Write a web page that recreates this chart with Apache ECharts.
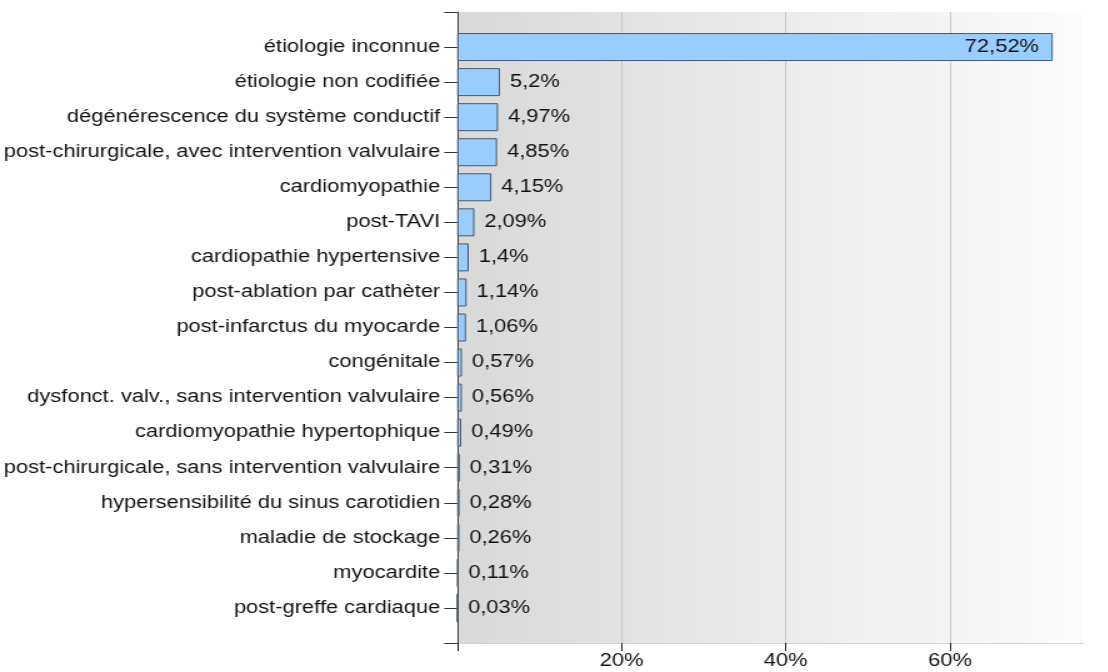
<!DOCTYPE html>
<html>
<head>
<meta charset="utf-8">
<script src="https://cdn.jsdelivr.net/npm/echarts@6/dist/echarts.min.js"></script>
<style>
html,body{margin:0;padding:0;background:#fff;overflow:hidden;}
#chart{width:886.4px;height:672px;transform:scaleX(1.25);transform-origin:0 0;}
</style>
</head>
<body>
<div id="chart"></div>
<script>
const categories = [
  "étiologie inconnue",
  "étiologie non codifiée",
  "dégénérescence du système conductif",
  "post-chirurgicale, avec intervention valvulaire",
  "cardiomyopathie",
  "post-TAVI",
  "cardiopathie hypertensive",
  "post-ablation par cathèter",
  "post-infarctus du myocarde",
  "congénitale",
  "dysfonct. valv., sans intervention valvulaire",
  "cardiomyopathie hypertophique",
  "post-chirurgicale, sans intervention valvulaire",
  "hypersensibilité du sinus carotidien",
  "maladie de stockage",
  "myocardite",
  "post-greffe cardiaque"
];
const values = [72.52, 5.2, 4.97, 4.85, 4.15, 2.09, 1.4, 1.14, 1.06, 0.57, 0.56, 0.49, 0.31, 0.28, 0.26, 0.11, 0.03];
const xTicks = [0, 20, 40, 60];
const xTickLabels = [20, 40, 60];

const FONT = "'Liberation Sans', Arial, sans-serif";
const maxVal = Math.max.apply(null, values);
const axisMax = maxVal * 1.05;

// pad with an empty slot at each end of the category axis
const yData = [''].concat(categories).concat(['']);
const barData = [null].concat(values.map(function (v) {
  const inside = v > axisMax * 0.5;
  return {
    value: v,
    label: inside ? { position: 'insideRight', distance: 11 } : { position: 'right', distance: 8 }
  };
})).concat([null]);

const chart = echarts.init(document.getElementById('chart'));
chart.setOption({
  animation: false,
  textStyle: { fontFamily: FONT },
  grid: {
    left: 362.5, right: 20, top: 12, bottom: 29,
    show: true,
    borderWidth: 0,
    backgroundColor: new echarts.graphic.LinearGradient(0, 0, 1, 0, [
      { offset: 0, color: '#d9d9d9' },
      { offset: 1, color: '#fcfcfc' }
    ])
  },
  xAxis: {
    type: 'value',
    min: 0,
    max: axisMax,
    interval: 20,
    axisLine: { show: true, lineStyle: { color: '#d4d4d4', width: 1 } },
    axisTick: { show: true, length: 8, customValues: xTicks, lineStyle: { color: '#222' } },
    axisLabel: {
      customValues: xTickLabels,
      margin: 9,
      fontSize: 17.5,
      fontFamily: FONT,
      color: '#111',
      formatter: function (v) { return v + '%'; }
    },
    splitLine: { show: true, lineStyle: { color: '#c6c6c6', width: 1 } }
  },
  yAxis: {
    type: 'category',
    inverse: true,
    boundaryGap: false,
    data: yData,
    axisLine: { show: true, lineStyle: { color: '#444', width: 1 } },
    axisTick: { show: true, length: 10.4, alignWithLabel: true, lineStyle: { color: '#333' } },
    axisLabel: { margin: 13.6, fontSize: 17.5, fontFamily: FONT, color: '#111' },
    splitLine: { show: false }
  },
  series: [{
    type: 'bar',
    data: barData,
    barWidth: 28,
    itemStyle: { color: '#99ccff', borderColor: '#4a5a6a', borderWidth: 1 },
    label: {
      show: true,
      fontSize: 17.5,
      fontFamily: FONT,
      color: '#111',
      formatter: function (p) { return String(p.value).replace('.', ',') + '%'; }
    }
  }]
});
</script>
</body>
</html>
